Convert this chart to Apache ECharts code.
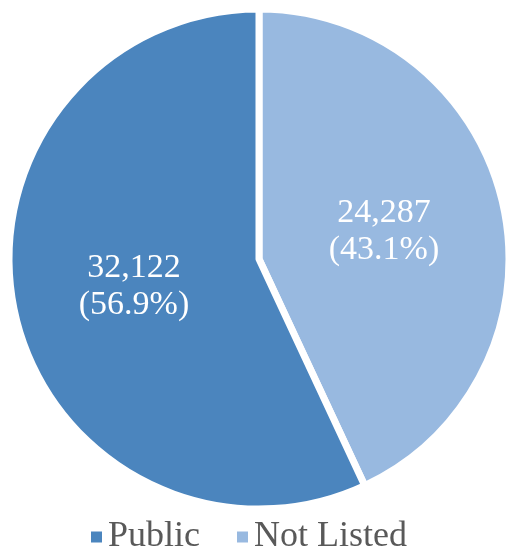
<!DOCTYPE html>
<html>
<head>
<meta charset="utf-8">
<script src="https://cdn.jsdelivr.net/npm/echarts@6/dist/echarts.min.js"></script>
<style>
  html, body { margin: 0; padding: 0; background: #fff; }
  #chart { width: 518px; height: 558px; }
</style>
</head>
<body>
<div id="chart"></div>
<script>
  // slices drawn clockwise from the top
  var categories = ['Not Listed', 'Public']
  var values = [24287, 32122]
  var sliceColors = ['#98b9e0', '#4b85be']
  var legendOrder = ['Public', 'Not Listed']

  var serif = '"Liberation Serif", "Times New Roman", serif'

  var pieData = []
  for (var i = 0; i < categories.length; i++) {
    pieData.push({name: categories[i], value: values[i], itemStyle: {color: sliceColors[i]}})
  }

  var option = {
    animation: false,
    legend: {
      data: legendOrder,
      left: 84,
      top: 514,
      icon: 'rect',
      itemWidth: 13,
      itemHeight: 13,
      itemGap: 35,
      textStyle: {color: '#595959', fontSize: 36, fontFamily: serif}
    },
    series: [{
      type: 'pie',
      center: [259, 259],
      radius: 250,
      startAngle: 90,
      clockwise: true,
      percentPrecision: 1,
      itemStyle: {borderColor: '#fff', borderWidth: 7},
      label: {
        show: true,
        position: 'inside',
        color: '#fff',
        fontSize: 34,
        lineHeight: 37,
        fontFamily: serif,
        formatter: function (p) {
          return p.value.toLocaleString('en-US') + '\n(' + p.percent.toFixed(1) + '%)'
        }
      },
      labelLine: {show: false},
      emphasis: {disabled: true},
      data: pieData
    }]
  }

  var chart = echarts.init(document.getElementById('chart'))
  chart.setOption(option)
</script>
</body>
</html>
